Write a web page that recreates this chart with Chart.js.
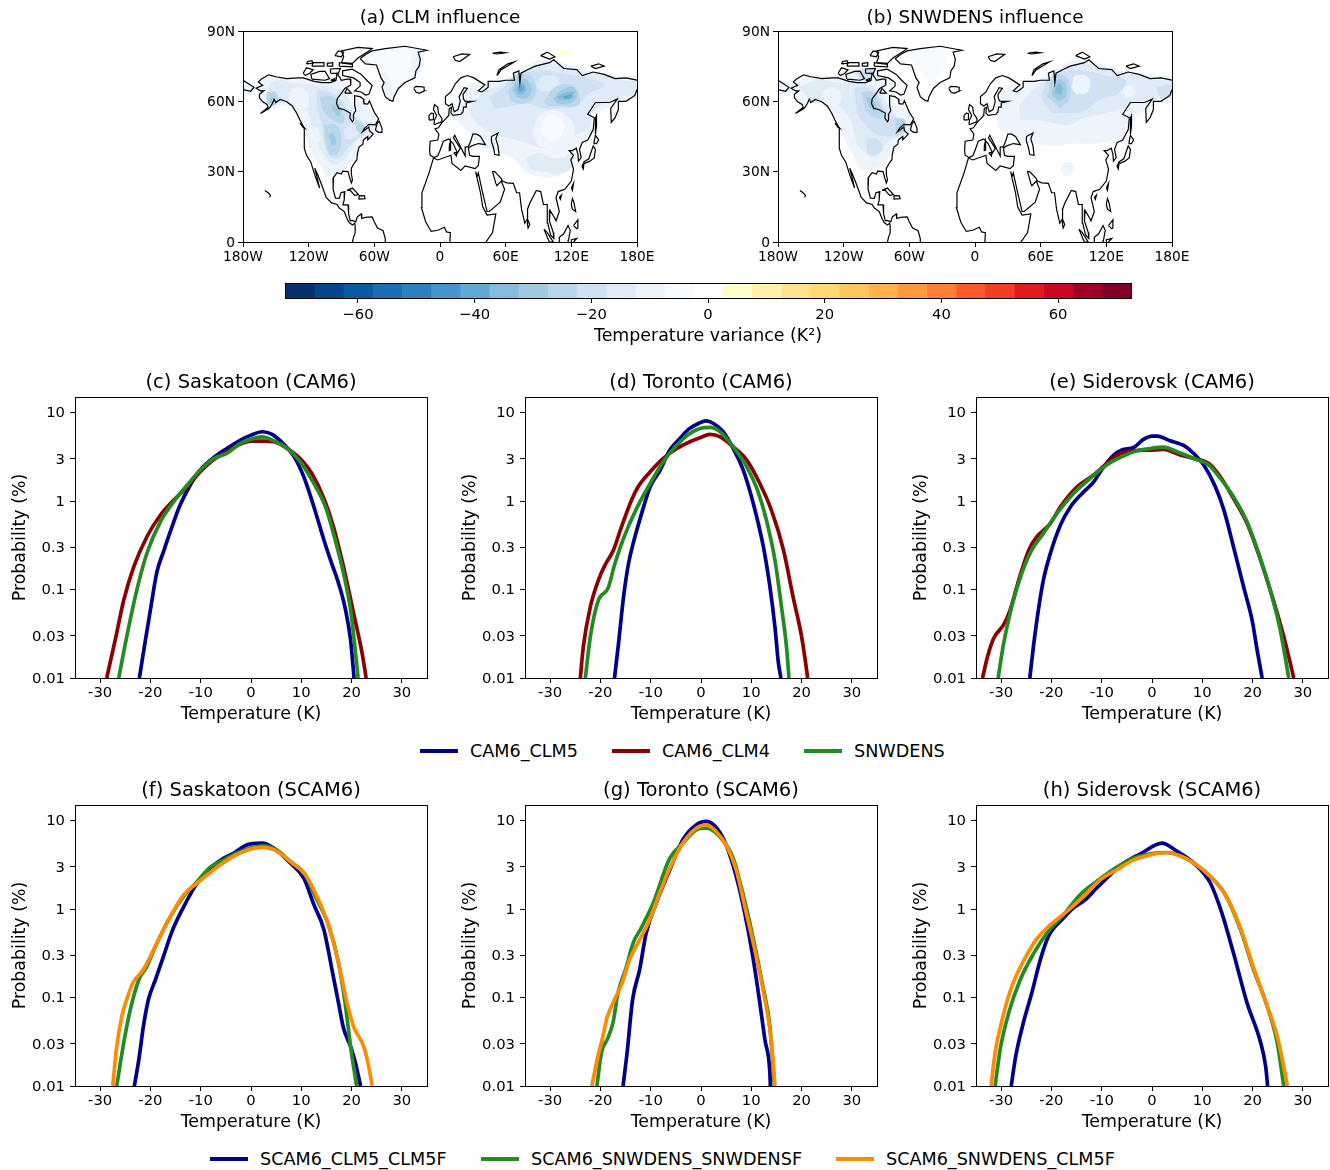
<!DOCTYPE html>
<html>
<head>
<meta charset="utf-8">
<title>Temperature variance and probability</title>
<script src="https://cdn.jsdelivr.net/npm/chart.js@4"></script>
<style>
    html, body { margin: 0; padding: 0; background: #fff; }
    body { position: relative; width: 1330px; height: 1170px; overflow: hidden; font-family: "DejaVu Sans", sans-serif; color: #000; }
    canvas { position: absolute; }
    .legend-line { position: absolute; height: 4px; }
    .legend-text { position: absolute; font-size: 17.6px; line-height: 20px; white-space: nowrap; }
</style>
</head>
<body>
<script>
// ---- curves: [temperature K, probability %] ----
const sasCam5 = [[-22.2,0.01],[-21.2,0.0227],[-20,0.059],[-18.7,0.159],[-17.4,0.268],[-15.7,0.513],[-14.1,0.9],[-12.1,1.51],[-10.1,2.24],[-7.4,3.11],[-4.8,3.93],[-2.1,4.89],[0,5.56],[2.2,6.07],[4.2,5.66],[6.5,4.4],[8.5,3.22],[10.5,1.88],[12.5,0.863],[14.5,0.363],[15.8,0.216],[17.4,0.118],[18.8,0.059],[19.8,0.027],[20.5,0.01]];
const sasClm4 = [[-28.7,0.01],[-27,0.027],[-25.3,0.076],[-23.3,0.181],[-20.7,0.395],[-18,0.695],[-15.7,0.98],[-12.7,1.45],[-10.1,2.14],[-7.4,2.95],[-4.8,3.6],[-2.1,4.4],[0,4.76],[2.2,4.76],[4.5,4.68],[7.2,3.93],[10.1,2.9],[12.1,2.05],[14.5,1.07],[16.4,0.513],[18.4,0.181],[20.4,0.054],[22.1,0.019],[22.9,0.01]];
const sasSnow = [[-26.3,0.01],[-24.7,0.0295],[-22.7,0.099],[-20.7,0.257],[-18,0.585],[-15.4,0.98],[-12.7,1.51],[-10.1,2.24],[-7.4,3.03],[-4.8,3.45],[-2.1,4.48],[0,5.01],[2.2,5.32],[4.5,4.8],[7.2,3.93],[9.8,2.78],[12.5,1.58],[14.8,0.863],[16.4,0.431],[18.4,0.152],[19.8,0.059],[20.8,0.019],[21.3,0.01]];

const torCam5 = [[-17.2,0.01],[-16.4,0.0247],[-15.4,0.083],[-14.4,0.198],[-13.4,0.347],[-11.8,0.726],[-10.1,1.45],[-8.1,2.24],[-6.2,3.77],[-4.2,5.1],[-2.5,6.45],[-0.5,7.53],[1,8.07],[2.5,7.53],[4.4,6.07],[6.4,3.93],[8.4,2.24],[10.4,0.94],[12.4,0.305],[13.7,0.108],[14.7,0.038],[15.4,0.0147],[15.9,0.01]];
const torClm4 = [[-24,0.01],[-23.4,0.0227],[-22,0.064],[-20.4,0.128],[-19.1,0.189],[-17.4,0.28],[-15.8,0.513],[-13.8,1.03],[-12.5,1.45],[-10.1,2.14],[-7.5,3.03],[-4.8,3.93],[-2.2,4.68],[-0.2,5.19],[1.8,5.66],[3.8,5.32],[6.4,4.1],[9.1,2.9],[11.7,1.58],[14,0.79],[16.4,0.28],[18.3,0.083],[20,0.0295],[21,0.0123],[21.2,0.01]];
const torSnow = [[-23,0.01],[-22,0.0295],[-20.4,0.076],[-18.5,0.103],[-17.1,0.198],[-15.4,0.38],[-12.8,0.826],[-10.1,1.58],[-7.5,2.78],[-4.8,4.29],[-2.2,5.81],[-0.2,6.61],[1.8,6.79],[3.8,6.07],[6.4,4.1],[9.1,2.44],[11.1,1.39],[13,0.61],[14.7,0.216],[16,0.064],[17,0.0227],[17.5,0.01]];

const sidCam5 = [[-24.3,0.01],[-23.5,0.0247],[-22.5,0.064],[-21.6,0.128],[-20.2,0.257],[-18.2,0.536],[-16.2,0.863],[-13.9,1.22],[-11.6,1.65],[-9.6,2.44],[-7.6,3.31],[-6,3.77],[-3.6,4.04],[-1.7,4.97],[0,5.42],[1.1,5.42],[3.6,4.8],[6.3,4.25],[8.3,3.45],[10.3,2.55],[12.6,1.45],[14.3,0.79],[16.2,0.305],[18.2,0.108],[19.9,0.0453],[20.9,0.0208],[21.9,0.01]];
const sidClm4 = [[-33.7,0.01],[-32.7,0.0175],[-31.5,0.028],[-29.5,0.04],[-28.2,0.059],[-26.5,0.128],[-24.5,0.28],[-22.9,0.395],[-20.2,0.56],[-18.2,0.863],[-14.9,1.45],[-11.6,1.97],[-9,2.66],[-6.3,3.45],[-3.6,3.7],[-0.3,3.77],[2.3,3.83],[5.6,3.31],[8.3,3.03],[11.3,2.66],[13.6,1.88],[16.2,1.07],[18.9,0.56],[20.9,0.28],[23.5,0.099],[26.2,0.0295],[28.2,0.01]];
const sidSnow = [[-30.6,0.01],[-29.5,0.0247],[-27.9,0.064],[-25.9,0.152],[-23.9,0.28],[-21.6,0.431],[-18.9,0.726],[-15.6,1.22],[-12.3,1.8],[-9,2.55],[-6.3,3.11],[-3,3.7],[-0.3,3.93],[2.3,4.07],[5,3.6],[8.3,3.03],[11.3,2.55],[13.6,1.8],[16.2,1.12],[18.9,0.585],[20.9,0.29],[23.5,0.099],[25.5,0.035],[27.2,0.01]];

const sasScamClm5 = [[-23.2,0.01],[-22.3,0.02],[-21.4,0.047],[-20.4,0.095],[-19,0.159],[-17.4,0.292],[-15.7,0.56],[-13.7,0.98],[-10.7,1.97],[-8.1,2.9],[-5.4,3.77],[-3.4,4.29],[-1.1,5.24],[2.2,5.56],[4.5,4.89],[7.8,3.31],[10.5,2.24],[12.5,1.12],[14.5,0.585],[16.1,0.207],[17.4,0.087],[18.4,0.045],[19.8,0.028],[20.8,0.018],[21.8,0.01]];
const sasScamSnow = [[-26.7,0.01],[-25.3,0.031],[-24,0.073],[-22.3,0.159],[-20.7,0.225],[-18.7,0.413],[-16,0.826],[-13.4,1.39],[-10.7,2.05],[-8.1,2.98],[-5.4,3.6],[-2.1,4.48],[2.5,5.19],[5.2,4.6],[7.8,3.45],[10.8,2.44],[12.8,1.39],[15.5,0.637],[17.4,0.246],[18.8,0.08],[19.8,0.028],[21,0.01]];
const sasScamMix = [[-27.5,0.01],[-26.7,0.028],[-25.7,0.061],[-24.5,0.103],[-23.5,0.146],[-21.4,0.207],[-18.7,0.413],[-16,0.826],[-13.4,1.45],[-10.7,1.97],[-7.4,2.78],[-4.1,3.77],[-0.5,4.68],[2.5,4.97],[5.2,4.48],[7.8,3.45],[10.8,2.44],[13.1,1.39],[15.5,0.637],[17.1,0.292],[19.1,0.087],[20.4,0.047],[22.4,0.028],[23.4,0.0167],[24.1,0.01]];

const torScamClm5 = [[-15.5,0.01],[-14.7,0.0237],[-13.6,0.095],[-12.2,0.207],[-10.9,0.536],[-8.9,1.17],[-6.2,2.78],[-3.6,6.07],[-0.9,8.96],[1.1,9.77],[3.4,7.87],[5,5.32],[7,2.34],[8.7,0.9],[10.3,0.292],[11.7,0.087],[12.7,0.0335],[13.7,0.0141],[13.8,0.01]];
const torScamSnow = [[-20.7,0.01],[-19.8,0.0237],[-18.5,0.035],[-17.5,0.052],[-16.5,0.113],[-14.8,0.225],[-13.5,0.413],[-11.9,0.61],[-9.5,1.17],[-6.2,3.77],[-3.6,5.56],[-0.9,7.87],[1.1,8.22],[3.7,6.61],[6.4,3.77],[8.3,1.52],[10.3,0.491],[12.3,0.134],[13.7,0.047],[14.6,0.01]];
const torScamMix = [[-21.7,0.01],[-20.5,0.0217],[-19.5,0.0365],[-18.7,0.059],[-17.5,0.087],[-15.8,0.14],[-14.2,0.268],[-12.2,0.45],[-10.2,0.758],[-8.2,1.52],[-5.9,3.16],[-3.6,5.56],[-0.9,8.22],[1.1,8.96],[3,7.53],[5,5.32],[7,2.78],[8.7,1.07],[10.7,0.347],[12.7,0.095],[13.7,0.043],[14.3,0.02],[14.7,0.01]];

const sidScamClm5 = [[-28,0.01],[-27.1,0.0217],[-25.5,0.054],[-23.9,0.113],[-22.2,0.268],[-20.6,0.491],[-17.6,0.79],[-15.6,1.03],[-13.3,1.27],[-11,1.73],[-8.3,2.44],[-5.6,3.31],[-2.3,4.21],[2,5.56],[5,4.48],[8.3,3.31],[11.6,1.97],[13.9,0.9],[16.2,0.318],[18.9,0.087],[21.6,0.031],[22.6,0.0167],[23,0.01]];
const sidScamSnow = [[-31.2,0.01],[-30.2,0.0258],[-28.5,0.067],[-26.2,0.159],[-23.5,0.318],[-20.9,0.536],[-17.6,0.863],[-14.3,1.45],[-11,2.05],[-7.6,2.83],[-3.6,3.77],[-0.3,4.21],[2.7,4.36],[5.6,4],[8.3,3.31],[11.6,2.34],[14.6,1.45],[17.6,0.585],[20.2,0.207],[22.9,0.08],[24.9,0.031],[26.2,0.01]];
const sidScamMix = [[-32,0.01],[-31.2,0.0237],[-29.8,0.056],[-28.1,0.123],[-26.1,0.225],[-22.9,0.46],[-20.2,0.665],[-16.9,0.94],[-13.6,1.39],[-10.3,2.14],[-7,2.78],[-3.6,3.6],[-0.3,4.1],[3,4.36],[5.6,4],[8.3,3.31],[11.6,2.34],[14.6,1.45],[17.6,0.61],[20.2,0.216],[22.9,0.08],[24.9,0.0365],[26.2,0.0167],[26.9,0.01]];

const probTicks = [0.01, 0.03, 0.1, 0.3, 1, 3, 10];
const tempTicks = [-30, -20, -10, 0, 10, 20, 30];
const lonTicks = [-180, -120, -60, 0, 60, 120, 180];
const lonLabels = ['180W', '120W', '60W', '0', '60E', '120E', '180E'];
const latTicks = [0, 30, 60, 90];
const latLabels = ['0', '30N', '60N', '90N'];
const barTicks = [-60, -40, -20, 0, 20, 40, 60];

const cam6Names = ['CAM6_CLM5', 'CAM6_CLM4', 'SNWDENS'];
const scamNames = ['SCAM6_CLM5_CLM5F', 'SCAM6_SNWDENS_SNWDENSF', 'SCAM6_SNWDENS_CLM5F'];
const cam6Colors = ['#00008b', '#8b0000', '#228b22'];
const scamColors = ['#00008b', '#228b22', '#ff8c00'];

// colorbar bins, one per 5 K2 from -70 to 70
const binCentres = [-70,-65,-60,-55,-50,-45,-40,-35,-30,-25,-20,-15,-10,-5,0,5,10,15,20,25,30,35,40,45,50,55,60,65,70];
const binColors = ['#08306b','#08468b','#0b5aa2','#1c6db2','#2e7fbb','#4695c8','#63a8d3','#85bcdc','#a0cae2','#bad6eb','#cfe1f3','#dfebf7','#edf4fc','#f7fbff','#ffffff',
    '#ffffcc','#fff2ac','#fee38e','#fed976','#fec561','#feb24c','#fd9941','#fd7e37','#fc5a2d','#f43d25','#e31a1c','#c90823','#a10026','#800026'];

// ---- coastlines, [lon, lat] ----
const coastNaWest = [[-156.5,71.3],[-163,69.5],[-166,68.3],[-162,66.8],[-168,65.6],[-164,64.5],[-161,64.5],[-165,63],[-165,61.5],[-162,59.8],[-158,58.7],[-157,57.5],[-164,54.8],[-156,57],[-153,59.2],[-151.5,60.9],[-150,59.5],[-146,60.8],[-140,59.8],[-135,58],[-131,55],[-128,52],[-124,48.5],[-124,43],[-124,40],[-122,37],[-118,34],[-117,32.5],[-114,28],[-110,23],[-112,27],[-114.5,31.5],[-112,29],[-109,25.5],[-105.5,21],[-104,19],[-99,16.7],[-94,16],[-92,14.5],[-87.5,13],[-85,10],[-83,8.3],[-80,7.3],[-78,8],[-77.5,7],[-77.5,4],[-79,2],[-80,0]];
const coastNaEast = [[-156.5,71.3],[-150,70.5],[-140,69.7],[-130,70],[-125,70],[-115,68.5],[-108,68],[-100,68],[-95,69],[-94,72],[-90,69],[-85,69.5],[-82,69.5],[-81.5,67],[-87,65.5],[-90,63.5],[-94,61],[-94.5,59],[-92.5,57],[-88,56.5],[-82,55],[-82.3,52.9],[-80,51.3],[-79,52],[-79,54.5],[-77,56],[-78,58.5],[-78,62.4],[-73,62],[-70,61],[-69.5,59],[-66,58.8],[-64.5,60.3],[-62,57.5],[-60,55.3],[-56,52.5],[-59,50],[-65,50.2],[-69,48.5],[-71,46.9],[-65,49],[-64.5,47.5],[-61,46],[-64,44.5],[-66,43.6],[-66,45],[-67,44.7],[-70,43.5],[-70.5,41.7],[-74,40.5],[-75.5,37.5],[-76,35],[-78,33.9],[-81,31.5],[-81,29],[-80,26.5],[-81,25.2],[-82.7,27.7],[-84,30],[-89,30.2],[-90,29],[-94,29.6],[-97.3,27.5],[-97.7,22.5],[-95.5,18.7],[-92,18.6],[-90.5,21],[-87,21.5],[-87.5,18],[-88.7,15.8],[-84,15.8],[-83.5,12],[-82,9],[-80,9.2],[-77,8.6],[-75.5,10.7],[-72,12],[-71.5,10],[-68,10.5],[-62,10.7],[-60,8.5],[-57,6],[-52,4.8],[-50,1.5],[-50,0]];
const coastGreenland = [[-73,78.2],[-68,76],[-58,75.5],[-54,70],[-51,68],[-53,66],[-50,62],[-46,60.5],[-43,60],[-42,62],[-38,65.5],[-32,68],[-23,70],[-22,73],[-19,75],[-18,78],[-20,81],[-12,81.8],[-32,83.5],[-50,82.5],[-62,81.5],[-68,80],[-73,78.2]];
const coastBaffin = [[-80,73.7],[-72,71.5],[-67,69],[-62,66.8],[-65,63],[-68,62.7],[-72,64],[-78,64.5],[-73,66.5],[-73,68],[-79,70],[-89,71],[-89,73],[-80,73.7]];
const coastVictoria = [[-117,69.5],[-105,69],[-101,69.7],[-105,72.8],[-110,72.8],[-118,71.5],[-117,69.5]];
const coastBanks = [[-125,72],[-123,71],[-119,72],[-116,73.5],[-122,74.3],[-125,72]];
const coastEllesmere = [[-90,76.5],[-80,76.2],[-75,78.5],[-65,81.5],[-62,82.5],[-75,83],[-90,81.5],[-88,79],[-90,76.5]];
const coastDevon = [[-92,75],[-80,74.7],[-80,75.8],[-92,76.5],[-92,75]];
const coastMelville = [[-117,75],[-106,75],[-106,76.5],[-116,76.5],[-117,75]];
const coastSomerset = [[-100,72],[-93,71.8],[-91,74],[-100,73.8],[-100,72]];
const coastAxel = [[-96,79.5],[-90,79],[-88,81],[-93,81.5],[-96,79.5]];
const coastBathurst = [[-103,75],[-98,75],[-98,76.5],[-103,76.2],[-103,75]];
const coastPrincePatrick = [[-122,76],[-116,76.3],[-117,77.3],[-121,77],[-122,76]];
const coastKingWilliam = [[-100,69],[-96,68.8],[-96,69.8],[-100,69]];
const coastSouthampton = [[-87,63.5],[-81,63.5],[-85,65.5],[-87,63.5]];
const coastNewfoundland = [[-59,47.7],[-56,46.8],[-53,46.8],[-53,48.5],[-55.5,51.5],[-57.5,50.5],[-59,47.7]];
const coastVancouver = [[-128,50.7],[-123.5,48.5],[-125,48.8],[-128,50.7]];
const coastCuba = [[-85,22],[-80,23],[-74.5,20.2],[-78,19.9],[-82,22],[-85,22]];
const coastHispaniola = [[-74,19.8],[-69,19.7],[-68.5,18.5],[-74,18.3],[-74,19.8]];
const coastHawaii = [[-160,22],[-157,21],[-155,20],[-155.5,19]];
const coastIceland = [[-24,65.5],[-22,64],[-19,63.4],[-14,64.5],[-14.5,66],[-18,66.3],[-22,66.4],[-24,65.5]];
const coastBritain = [[-5.5,50],[1.3,51.2],[1.7,52.7],[-1.5,55],[-2,57.5],[-5,58.6],[-6,56.5],[-3,54],[-5,52],[-5.5,50]];
const coastIreland = [[-10,52],[-6,52.2],[-6,54.8],[-8,55],[-10,54],[-10,52]];
const coastSvalbard = [[12,79],[20,80.2],[27,80],[18,77],[14,77.5],[12,79]];
const coastFranzJosef = [[48,80.5],[55,81],[60,80.7],[52,80.2],[48,80.5]];
const coastNovaya = [[52,71],[56,73.5],[68,76.8],[62,76],[54,73.5],[52,71]];
const coastSevernaya = [[92,79.5],[98,81],[105,79],[100,78],[92,79.5]];
const coastSiberianIs = [[138,75],[145,76],[150,75],[142,74],[138,75]];
const coastEuropeArctic = [[-5.5,36],[-9,37],[-9.5,39],[-9,43],[-2,43.5],[-1,46],[-4.5,48.3],[-1.5,48.7],[2,51],[4,52],[8,54],[8.5,57],[10.5,57.5],[10,55],[12,54],[19,54.5],[21,55.5],[21.5,57.5],[24,57.5],[24,59.3],[30,60],[23,60],[21.5,61],[21,63],[25,65.5],[22,65.8],[17.5,62],[18.5,60],[16.5,56.5],[13,55.5],[11,59],[8,58],[5,59],[5,62],[10,64],[14,67.5],[19,70],[25,71],[31,70],[41,67],[35,64.5],[38,64],[40.5,64.7],[44,66],[44,68.5],[54,68.5],[60,69],[68,69],[67,72],[72,73],[73,68],[74,72],[80,73.5],[87,75],[100,76.5],[104,77.7],[113,74],[125,73.5],[130,71],[140,72.5],[150,71.5],[160,69.7],[170,70],[180,69]];
const coastChukotka = [[-180,69],[-175,67.5],[-170,66],[-173,64.3],[-180,65]];
const coastAsiaSouth = [[180,65],[178,62.5],[170,60],[163,60],[163,56.5],[160,53],[156.5,51],[156,57],[162,61],[155,59.5],[142,59.5],[135,54.5],[141,53],[140,48],[135,43.5],[130,42.5],[127.5,39.5],[129,36],[126.5,34.5],[126,37.5],[124.5,40],[121,39],[118,39],[122,37],[119.5,35],[122,31],[120,26],[114,22.5],[108,21.5],[106,19],[109,13],[106,9],[105,10],[100.5,13.5],[100,9],[103.5,4],[104,1.5],[101,3],[98.5,8],[98,16],[94.5,16],[92,21.5],[88,22],[82,16.5],[80,14],[80,10],[77.5,8],[74.5,14],[72.7,21],[70,21],[67,25],[61,25.2],[57,26],[56,27],[50,30],[48,30],[51,25],[52,24],[56,26],[59,22.5],[55,17],[45,13],[43,13],[39,21],[35,29.5],[34,28],[32.5,30],[34,27],[37,21],[39,15],[43,11.5],[51,12],[48,4],[42,0]];
const coastAfricaMed = [[9,0],[9.5,4],[6,4.3],[4,6.3],[-2,5],[-8,4.5],[-13,8.5],[-17,14.7],[-16.5,21],[-10,29.5],[-6,35.8],[-2,35],[10,37],[11,33.5],[19,30.5],[23,32.5],[32,31.3],[35,32.5],[36,36.5],[30,36.5],[27,37],[26,40],[29,41],[35,42],[41.5,41.5],[37,45],[33.5,46],[30,46],[28,43],[26,40.7],[23,40.5],[23,36.7],[20,39.5],[13.5,45.5],[12.3,44.5],[18.5,40],[16,38],[12,42],[8,44],[3,43],[0,39],[-2,36.8],[-5.5,36]];
const coastCaspian = [[47,45],[53,46.5],[51,44],[53,41],[54,37],[50,37.3],[49,40],[47,43],[47,45]];
const coastSriLanka = [[80,9.7],[82,7.5],[80.5,6],[79.8,8],[80,9.7]];
const coastHonshu = [[131,34],[136,35.5],[140,41],[142,39.5],[141,36],[137,34.5],[132,33.5],[131,34]];
const coastHokkaido = [[140.5,42],[142,45.5],[145,43.5],[143,42],[140.5,42]];
const coastKyushu = [[130,33],[131.5,33.5],[131,31.2],[130,32],[130,33]];
const coastSakhalin = [[142,46],[143,49.5],[143,54],[142,53],[142,46]];
const coastTaiwan = [[120,23],[122,25],[121,22],[120,23]];
const coastHainan = [[109,19],[111,20],[110,18.2],[109,19]];
const coastLuzon = [[120,16],[121,18.5],[122.3,17],[124,13],[121,14],[120,16]];
const coastMindanao = [[122,7],[126,9.5],[126,6],[125,5.7],[122,7]];
const coastSumatra = [[95,5.5],[98,4],[103.5,0],[100,0],[98,2],[95,5.5]];
const coastBorneo = [[109,0],[109,2],[113,3.5],[117,7],[119,5],[117.5,1],[117,0]];
const coastSulawesi = [[120,0],[120,1],[125,1.5],[122,0]];
const coastSicily = [[12.5,38],[15.5,38.2],[15,36.7],[12.5,38]];
const coastSardinia = [[8.5,41],[9.5,43],[9.7,39.2],[8.5,39],[8.5,41]];
const coastlines = [coastNaWest, coastNaEast, coastGreenland, coastBaffin, coastVictoria, coastBanks, coastEllesmere, coastDevon, coastMelville, coastSomerset, coastAxel, coastBathurst, coastPrincePatrick, coastKingWilliam, coastSouthampton, coastNewfoundland, coastVancouver, coastCuba, coastHispaniola, coastHawaii, coastIceland, coastBritain, coastIreland, coastSvalbard, coastFranzJosef, coastNovaya, coastSevernaya, coastSiberianIs, coastEuropeArctic, coastChukotka, coastAsiaSouth, coastAfricaMed, coastCaspian, coastSriLanka, coastHonshu, coastHokkaido, coastKyushu, coastSakhalin, coastTaiwan, coastHainan, coastLuzon, coastMindanao, coastSumatra, coastBorneo, coastSulawesi, coastSicily, coastSardinia];

// ---- variance contours: [level K2, outline in lon/lat] ----
const clmNaOuter = [[-165,68],[-155,71],[-140,70],[-120,70],[-100,69],[-85,68],[-78,62],[-70,60],[-60,54],[-56,50],[-62,45],[-70,43],[-76,38],[-82,33],[-92,30],[-103,28],[-110,33],[-118,38],[-123,46],[-128,52],[-140,58],[-155,57],[-165,60]];
const clmNaMid = [[-160,65],[-150,69],[-135,68],[-115,67],[-98,66],[-85,62],[-78,55],[-68,50],[-66,46],[-74,44],[-80,40],[-88,35],[-97,33],[-104,36],[-112,42],[-117,50],[-122,56],[-130,58],[-145,60],[-158,58]];
const clmNaHoleA = [[-138,64],[-128,66],[-120,62],[-122,57],[-132,57],[-138,60]];
const clmNaHoleB = [[-119,46],[-113,49],[-109,44],[-114,41]];
const clmNaInner = [[-112,65],[-100,64],[-90,60],[-82,55],[-72,51],[-68,47],[-76,44],[-84,40],[-92,36],[-99,36],[-105,41],[-108,50],[-113,57]];
const clmNaHoleC = [[-88,48],[-80,50],[-74,47],[-80,44],[-87,44]];
const clmNaCoreA = [[-110,62],[-98,62],[-89,56],[-88,51],[-94,51],[-103,54],[-108,57]];
const clmNaCoreB = [[-106,50],[-95,50],[-90,44],[-93,38],[-100,37],[-105,43]];
const clmNaCoreC = [[-78,52],[-70,50],[-70,47],[-76,47]];
const clmNaPeakA = [[-102,46],[-97,46],[-95,42],[-99,41]];
const clmNaPeakB = [[-100,58],[-93,57],[-91,54],[-95,54]];
const clmAkCore = [[-158,64],[-150,64],[-148,60],[-152,58],[-158,59]];
const clmAkPeak = [[-155,62],[-151,61],[-152,59],[-156,59.5]];
const clmEuOuter = [[15,62],[30,68],[45,68],[60,70],[75,74],[95,78],[115,76],[135,73],[160,71],[180,70],[180,62],[165,60],[155,58],[140,53],[137,46],[128,40],[118,33],[105,28],[90,28],[78,30],[68,35],[55,38],[42,40],[28,46],[15,52]];
const clmEuMid = [[28,58],[40,64],[55,67],[68,70],[85,75],[105,76],[125,73],[150,71],[170,69],[180,68],[180,63],[165,62],[150,59],[140,55],[135,48],[125,46],[112,42],[95,40],[80,42],[65,44],[50,46],[35,50],[28,54]];
const clmEuSouth = [[78,36],[90,38],[100,36],[112,36],[120,38],[122,33],[110,29],[95,30],[82,31]];
const clmEuPaleA = [[85,45],[88,52],[97,56],[112,55],[122,50],[120,43],[105,40],[90,41]];
const clmEuHole = [[92,47],[96,53],[106,54],[113,50],[110,45],[100,43]];
const clmEuInner = [[45,62],[58,66],[68,71],[85,73],[100,73],[120,71],[135,70],[150,67],[135,63],[125,58],[110,57],[95,57],[80,59],[65,58],[50,57]];
const clmEuHole2 = [[88,67],[95,71],[108,70],[105,65],[93,64]];
const clmObA = [[62,64],[70,71],[82,71],[88,66],[85,61],[75,59],[65,60]];
const clmObB = [[66,65],[72,70],[80,69],[84,65],[78,61],[70,62]];
const clmObC = [[69,65],[74,68],[79,66],[76,63],[71,63]];
const clmObD = [[71,65.5],[75,67],[77,65],[73,64]];
const clmLenaA = [[95,60],[105,66],[120,67],[128,62],[125,58],[110,58],[98,58]];
const clmLenaB = [[103,61],[112,65],[122,66],[125,62],[118,59],[107,59]];
const clmLenaC = [[106,62],[114,63.5],[122,64],[120,61],[110,60.5]];
const clmLenaD = [[112,62],[120,63],[119,61.5],[113,61]];
const clmChukotka = [[-180,70],[-170,67],[-168,64],[-180,62]];
const clmYellow = [[103,80.5],[110,81.5],[120,81],[118,80],[108,79.8]];
const clmGreenland = [[-72,80],[-30,84],[-15,80],[-20,70],[-38,64],[-44,59],[-52,65],[-58,73]];
const clmGreenlandW = [[-55,72],[-48,72],[-42,62],[-45,60],[-52,66]];
const clmGreenlandE = [[-25,80],[-15,80],[-20,72],[-28,72]];
const clmFields = [
    [-5, clmGreenland], [-10, clmGreenlandW], [-10, clmGreenlandE], [-10, clmNaOuter], [-15, clmNaMid], [-10, clmNaHoleA], [-10, clmNaHoleB],
    [-20, clmNaInner], [-15, clmNaHoleC], [-25, clmNaCoreA], [-25, clmNaCoreB], [-25, clmNaCoreC], [-30, clmNaPeakA], [-30, clmNaPeakB],
    [-25, clmAkCore], [-30, clmAkPeak], [-10, clmEuOuter], [-15, clmEuMid], [-15, clmEuSouth], [-10, clmEuPaleA], [-5, clmEuHole], [-20, clmEuInner], [-15, clmEuHole2],
    [-25, clmObA], [-30, clmObB], [-35, clmObC], [-40, clmObD], [-25, clmLenaA], [-30, clmLenaB], [-35, clmLenaC], [-40, clmLenaD],
    [-10, clmChukotka], [5, clmYellow]
];

const snwNaOuter = [[-165,68],[-150,71],[-125,71],[-100,74],[-88,72],[-82,65],[-76,60],[-65,57],[-58,52],[-62,46],[-70,43],[-76,38],[-84,33],[-95,31],[-104,31],[-110,36],[-118,42],[-124,50],[-132,56],[-145,59],[-160,58]];
const snwNaMid = [[-160,66],[-145,69],[-125,68],[-105,68],[-92,66],[-82,60],[-72,54],[-64,50],[-66,46],[-75,44],[-84,40],[-92,36],[-100,38],[-108,42],[-112,50],[-122,57],[-135,60],[-150,60]];
const snwNaHole = [[-140,64],[-130,66],[-122,63],[-126,58],[-136,59]];
const snwNaArctic = [[-112,73],[-100,74],[-92,73],[-95,70],[-106,70]];
const snwNaInner = [[-110,66],[-98,66],[-88,62],[-80,55],[-72,53],[-64,50],[-68,46],[-78,45],[-90,46],[-100,50],[-108,55]];
const snwNaCore = [[-104,64],[-94,64],[-86,58],[-84,53],[-92,53],[-100,56]];
const snwNaCoreE = [[-73,53],[-64,52],[-65,47],[-72,47]];
const snwNaPeak = [[-100,62],[-94,61],[-90,57],[-96,57]];
const snwNaSouth = [[-100,44],[-90,44],[-84,40],[-92,37],[-98,38]];
const snwEuOuter = [[18,58],[30,66],[45,68],[60,70],[75,74],[95,78],[115,76],[135,73],[160,71],[180,70],[180,60],[165,59],[155,56],[140,50],[135,44],[125,43],[110,42],[90,42],[70,41],[55,42],[40,44],[22,48]];
const snwEuMid = [[40,58],[55,66],[68,70],[85,75],[105,76],[125,73],[150,71],[170,69],[180,68],[180,62],[165,62],[150,60],[135,57],[120,55],[100,53],[85,50],[70,51],[55,52],[42,52]];
const snwEuInner = [[60,62],[68,70],[85,73],[100,73],[120,71],[138,69],[130,63],[115,61],[100,56],[85,55],[70,55]];
const snwEuEast = [[165,66],[180,67],[180,62],[170,61]];
const snwEuHole = [[88,66],[92,71],[104,70],[103,64],[93,63]];
const snwEuHole2 = [[135,66],[142,67],[146,63],[138,61]];
const snwObA = [[66,62],[72,71],[84,70],[87,62],[78,57]];
const snwObB = [[70,63],[74,69],[82,68],[83,62],[76,60]];
const snwObC = [[73,64],[76,67.5],[80,66],[79,62.5]];
const snwTibet = [[78,31],[82,34],[90,33],[88,29],[81,28]];
const snwChukotka = [[-180,70],[-172,67],[-168,64],[-180,62]];
const snwGreenland = [[-60,80],[-35,83],[-25,78],[-35,70],[-42,68],[-50,73]];
const snwFields = [
    [-5, snwGreenland], [-10, snwNaOuter], [-15, snwNaMid], [-10, snwNaHole], [-20, snwNaArctic], [-20, snwNaInner], [-25, snwNaCore], [-25, snwNaCoreE], [-30, snwNaPeak], [-20, snwNaSouth],
    [-10, snwEuOuter], [-15, snwEuMid], [-20, snwEuInner], [-20, snwEuEast], [-10, snwEuHole], [-10, snwEuHole2], [-25, snwObA], [-30, snwObB], [-35, snwObC], [-10, snwTibet], [-10, snwChukotka]
];

// ---- helpers ----
const FONT = '"DejaVu Sans", sans-serif';
const TICK_SIZE = 14.8;
const LABEL_SIZE = 17.4;

const framePlugin = {
    id: 'frame',
    afterDraw(chart) {
        const { ctx, chartArea: a } = chart;
        ctx.save();
        ctx.strokeStyle = '#000';
        ctx.lineWidth = 1;
        ctx.strokeRect(a.left + 0.5, a.top + 0.5, a.right - a.left, a.bottom - a.top);
        ctx.restore();
    }
};

function toPoints(pairs) {
    return pairs.map(p => ({ x: p[0], y: p[1] }));
}

function addCanvas(left, top, width, height) {
    const canvas = document.createElement('canvas');
    canvas.width = width;
    canvas.height = height;
    canvas.style.left = left + 'px';
    canvas.style.top = top + 'px';
    canvas.style.width = width + 'px';
    canvas.style.height = height + 'px';
    document.body.appendChild(canvas);
    return canvas;
}

function fixedTicks(values) {
    return scale => { scale.ticks = values.map(v => ({ value: v })); };
}

function axisStyle(extra) {
    return Object.assign({
        border: { display: false },
        grid: { drawOnChartArea: false, drawTicks: true, tickLength: 5, tickColor: '#000', tickWidth: 1 }
    }, extra);
}

function baseOptions(title, titleSize, gapTop, gapBottom, rightPad) {
    return {
        responsive: false,
        animation: false,
        events: [],
        layout: { padding: { left: 0, right: rightPad || 0, top: 0, bottom: 0 } },
        plugins: {
            legend: { display: false },
            tooltip: { enabled: false },
            title: title ? {
                display: true,
                fullSize: false,
                text: title,
                color: '#000',
                font: { family: FONT, size: titleSize, weight: 'normal', lineHeight: 1 },
                padding: { top: gapTop, bottom: gapBottom }
            } : { display: false }
        }
    };
}

// probability panel, plot box at plotLeft..plotLeft+352, plotTop..plotTop+281
function drawPanel(plotLeft, plotTop, title, curves, colors) {
    const canvas = addCanvas(plotLeft - 75, plotTop - 24, 75 + 352 + 3, 24 + 281 + 50);
    const options = baseOptions(title, 19.5, 0, 4.5, 3);
    options.scales = {
        x: axisStyle({
            type: 'linear', min: -35, max: 35,
            afterBuildTicks: fixedTicks(tempTicks),
            afterFit: s => { s.height = 50; },
            ticks: { color: '#000', padding: 1.5, maxRotation: 0, autoSkip: false, font: { family: FONT, size: TICK_SIZE }, callback: v => String(v) },
            title: { display: true, text: 'Temperature (K)', color: '#000', font: { family: FONT, size: LABEL_SIZE, lineHeight: 1.2 }, padding: { top: 0, bottom: 2.6 } }
        }),
        y: axisStyle({
            type: 'logarithmic', min: 0.01, max: 15,
            afterBuildTicks: fixedTicks(probTicks),
            afterFit: s => { s.width = 75; },
            ticks: { color: '#000', padding: 5, labelOffset: 1, autoSkip: false, font: { family: FONT, size: TICK_SIZE }, callback: v => String(v) },
            title: { display: true, text: 'Probability (%)', color: '#000', font: { family: FONT, size: LABEL_SIZE, lineHeight: 1.2 }, padding: { top: 10, bottom: 0 } }
        })
    };
    new Chart(canvas, {
        type: 'scatter',
        data: {
            datasets: curves.map((curve, i) => ({
                data: toPoints(curve),
                showLine: true,
                borderColor: colors[i],
                borderWidth: 3.7,
                pointRadius: 0,
                cubicInterpolationMode: 'monotone',
                clip: 0,
                order: curves.length - i
            }))
        },
        options: options,
        plugins: [framePlugin]
    });
}

function binColor(level) {
    return binColors[binCentres.indexOf(level)];
}

// map panel, plot box at plotLeft..plotLeft+394, 31..242
function drawMap(plotLeft, title, fields) {
    const plotTop = 31;
    const canvas = addCanvas(plotLeft - 60, plotTop - 24, 60 + 394 + 30, 24 + 211 + 30);
    const options = baseOptions(title, 18.4, 2, 3.6, 30);
    options.scales = {
        x: axisStyle({
            type: 'linear', min: -180, max: 180,
            afterBuildTicks: fixedTicks(lonTicks),
            afterFit: s => { s.height = 30; },
            ticks: { color: '#000', padding: 2, maxRotation: 0, autoSkip: false, font: { family: FONT, size: 13.8 }, callback: v => lonLabels[lonTicks.indexOf(v)] }
        }),
        y: axisStyle({
            type: 'linear', min: 0, max: 90,
            afterBuildTicks: fixedTicks(latTicks),
            afterFit: s => { s.width = 60; },
            ticks: { color: '#000', padding: 3, labelOffset: 1, autoSkip: false, font: { family: FONT, size: 13.8 }, callback: v => latLabels[latTicks.indexOf(v)] }
        })
    };
    const total = fields.length + coastlines.length;
    const datasets = [];
    fields.forEach((field, i) => {
        datasets.push({
            data: toPoints(field[1]),
            showLine: true,
            fill: 'shape',
            tension: 0.4,
            backgroundColor: binColor(field[0]),
            borderWidth: 0,
            pointRadius: 0,
            order: total - i
        });
    });
    coastlines.forEach((coast, i) => {
        datasets.push({
            data: toPoints(coast),
            showLine: true,
            borderColor: '#000',
            borderWidth: 1.2,
            pointRadius: 0,
            order: coastlines.length - i
        });
    });
    new Chart(canvas, { type: 'scatter', data: { datasets: datasets }, options: options, plugins: [framePlugin] });
}

function drawColorbar() {
    const canvas = addCanvas(245, 283, 926, 70);
    const options = baseOptions(null);
    options.layout.padding = { left: 40, right: 40, top: 0, bottom: 0 };
    options.scales = {
        x: axisStyle({
            type: 'linear', min: -72.5, max: 72.5,
            afterBuildTicks: fixedTicks(barTicks),
            afterFit: s => { s.height = 55; },
            ticks: { color: '#000', padding: 3, maxRotation: 0, autoSkip: false, font: { family: FONT, size: TICK_SIZE }, callback: v => String(v).replace('-', '\u2212') },
            title: { display: true, text: 'Temperature variance (K\u00b2)', color: '#000', font: { family: FONT, size: LABEL_SIZE, lineHeight: 1.2 }, padding: { top: 0, bottom: 6 } }
        }),
        y: { type: 'category', display: false, labels: ['variance'] }
    };
    options.indexAxis = 'y';
    new Chart(canvas, {
        type: 'bar',
        data: {
            labels: ['variance'],
            datasets: binCentres.map((c, i) => ({
                data: [[c - 2.5, c + 2.5]],
                backgroundColor: binColors[i],
                borderWidth: 0,
                barPercentage: 1,
                categoryPercentage: 1,
                grouped: false
            }))
        },
        options: options,
        plugins: [framePlugin]
    });
}

function addLegend(y, names, colors, lineStarts) {
    names.forEach((name, i) => {
        const line = document.createElement('div');
        line.className = 'legend-line';
        line.style.left = lineStarts[i] + 'px';
        line.style.top = (y - 2) + 'px';
        line.style.width = '38px';
        line.style.background = colors[i];
        document.body.appendChild(line);
        const text = document.createElement('div');
        text.className = 'legend-text';
        text.style.left = (lineStarts[i] + 50) + 'px';
        text.style.top = (y - 10) + 'px';
        text.textContent = name;
        document.body.appendChild(text);
    });
}

drawMap(243, '(a) CLM influence', clmFields);
drawMap(778, '(b) SNWDENS influence', snwFields);
drawColorbar();

drawPanel(75, 397, '(c) Saskatoon (CAM6)', [sasCam5, sasClm4, sasSnow], cam6Colors);
drawPanel(525, 397, '(d) Toronto (CAM6)', [torCam5, torClm4, torSnow], cam6Colors);
drawPanel(976, 397, '(e) Siderovsk (CAM6)', [sidCam5, sidClm4, sidSnow], cam6Colors);
drawPanel(75, 805, '(f) Saskatoon (SCAM6)', [sasScamClm5, sasScamSnow, sasScamMix], scamColors);
drawPanel(525, 805, '(g) Toronto (SCAM6)', [torScamClm5, torScamSnow, torScamMix], scamColors);
drawPanel(976, 805, '(h) Siderovsk (SCAM6)', [sidScamClm5, sidScamSnow, sidScamMix], scamColors);

addLegend(751, cam6Names, cam6Colors, [420, 612, 804]);
addLegend(1159, scamNames, scamColors, [210, 481, 836]);
</script>
</body>
</html>
